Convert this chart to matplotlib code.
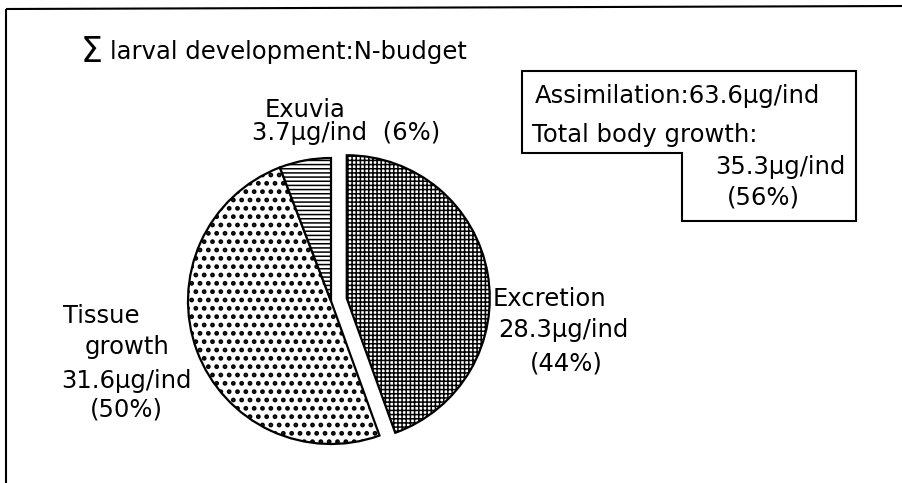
import matplotlib
matplotlib.use("Agg")
import matplotlib.pyplot as plt
from matplotlib.patches import Polygon

# data
labels = ["Excretion", "Tissue\ngrowth", "Exuvia"]
amounts = [28.3, 31.6, 3.7]          # µg/ind
percents = [44, 50, 6]
hatches = ["++++", "..", "----"]
explode = [16, 0, 0]                 # pixels, pie drawn in pixel coords
assimilation = 63.6
body_growth = 35.3
body_percent = 56

W, H = 903, 483


def py(y):
    "pixel row (from top) -> data y"
    return H - y


plt.rcParams["font.family"] = ["DejaVu Sans"]
FS = 17.5

fig = plt.figure(figsize=(W / 100, H / 100), dpi=100)
ax = fig.add_axes([0, 0, 1, 1])

wedges, _ = ax.pie(
    amounts,
    explode=explode,
    startangle=90,
    counterclock=False,
    center=(331, py(301)),
    radius=143,
    frame=True,
    wedgeprops=dict(facecolor="white", edgecolor="black", linewidth=1.6),
)
for w, h in zip(wedges, hatches):
    w.set_hatch(h)
    if hasattr(w, "set_hatch_linewidth"):
        w.set_hatch_linewidth(2.2 if h == ".." else 1.1)

ax.set_xlim(0, W)
ax.set_ylim(0, H)
ax.set_aspect("auto")
ax.axis("off")


def txt(x, y, s, size=FS):
    ax.text(x, py(y), s, ha="left", va="baseline", fontsize=size, color="black")


# frame lines (top and left)
ax.plot([6, W], [py(9), py(6)], color="black", lw=1.5, solid_capstyle="butt")
ax.plot([6, 6], [py(9), 0], color="black", lw=1.5, solid_capstyle="butt")

# title
txt(81, 62, "\u03a3", size=25)
txt(110, 59, "larval development:N-budget")

# summary box
box = Polygon(
    [(522, py(71)), (856, py(71)), (856, py(221)), (682, py(221)),
     (682, py(153)), (522, py(153))],
    closed=True, fill=False, edgecolor="black", linewidth=1.5,
)
ax.add_patch(box)
txt(535, 103, f"Assimilation:{assimilation}\u00b5g/ind")
txt(532, 142, "Total body growth:")
txt(715, 174, f"{body_growth}\u00b5g/ind")
txt(727, 204, f"({body_percent}%)")

# slice labels
txt(265, 117, "Exuvia")
txt(252, 140, f"{amounts[2]}\u00b5g/ind  ({percents[2]}%)")

txt(493, 306, "Excretion")
txt(498, 337, f"{amounts[0]}\u00b5g/ind")
txt(530, 370, f"({percents[0]}%)")

txt(63, 323, "Tissue")
txt(85, 354, "growth")
txt(61, 388, f"{amounts[1]}\u00b5g/ind")
txt(90, 416, f"({percents[1]}%)")

fig.savefig("out.png", dpi=100, facecolor="white")
